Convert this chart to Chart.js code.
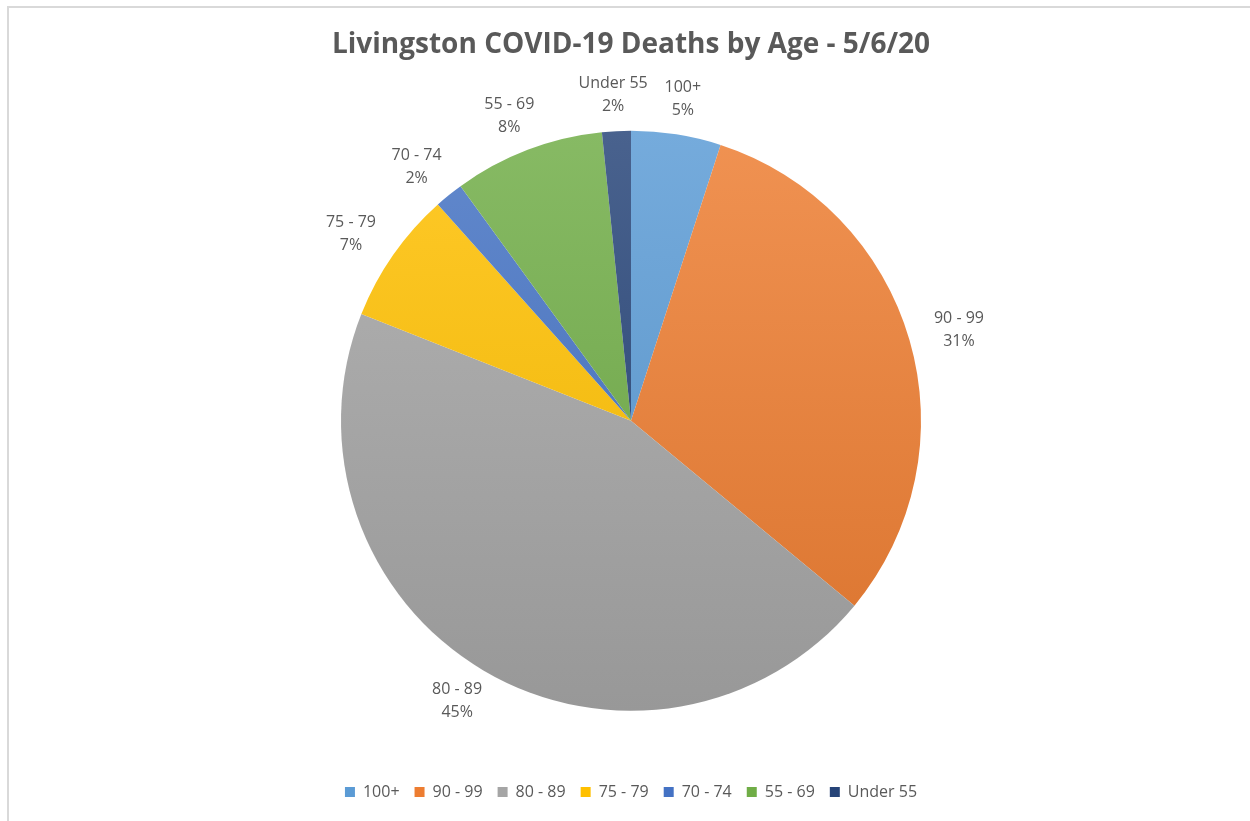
<!DOCTYPE html>
<html lang="en">
<head>
  <meta charset="UTF-8" />
  <title>Livingston COVID-19 Deaths by Age</title>
  <script src="https://cdn.jsdelivr.net/npm/chart.js"></script>
  <style>
    html, body { margin: 0; padding: 0; background: #ffffff; }
    .wrap { position: relative; width: 1250px; height: 821px; overflow: hidden; }
    /* thin frame seen at the top and left edge */
    .frame {
      position: absolute; left: 7px; top: 6px; right: -4px; bottom: -4px;
      border-top: 2px solid #d9d9d9; border-left: 2px solid #d9d9d9;
      pointer-events: none;
    }
    canvas { position: absolute; left: 0; top: 0; }
  </style>
</head>
<body>
  <div class="wrap">
    <canvas id="pie" width="1250" height="821"></canvas>
    <div class="frame"></div>
  </div>

  <script>
    // data (share of deaths, %)
    const ageGroups = ['100+', '90 - 99', '80 - 89', '75 - 79', '70 - 74', '55 - 69', 'Under 55'];
    const deathShare = [5, 31, 45, 7.4, 1.6, 8.4, 1.6];
    const sliceColors = ['#5b9bd5', '#ed7d31', '#a5a5a5', '#ffc000', '#4472c4', '#70ad47', '#264478'];

    const textColor = '#595959';
    const fontFamily = '"Open Sans", "Noto Sans", sans-serif';
    const pieRadius = 290;

    // mix a hex colour with white (amt > 0) or black (amt < 0)
    function shade(hex, amt) {
      const n = parseInt(hex.slice(1), 16);
      let r = (n >> 16) & 255, g = (n >> 8) & 255, b = n & 255;
      const t = amt > 0 ? 255 : 0, p = Math.abs(amt);
      r = Math.round(r + (t - r) * p);
      g = Math.round(g + (t - g) * p);
      b = Math.round(b + (t - b) * p);
      return `rgb(${r},${g},${b})`;
    }

    // vertical gradient like the office-style fill
    function sliceFill(context) {
      const chart = context.chart;
      const area = chart.chartArea;
      if (!area) return sliceColors[context.dataIndex];
      const cy = (area.top + area.bottom) / 2;
      const base = sliceColors[context.dataIndex];
      const g = chart.ctx.createLinearGradient(0, cy - pieRadius, 0, cy + pieRadius);
      g.addColorStop(0, shade(base, 0.16));
      g.addColorStop(1, shade(base, -0.08));
      return g;
    }

    // labels outside each slice: category + percent
    const outsideLabels = {
      id: 'outsideLabels',
      afterDatasetsDraw(chart) {
        const ctx = chart.ctx;
        const meta = chart.getDatasetMeta(0);
        const values = chart.data.datasets[0].data;
        const total = values.reduce((a, b) => a + b, 0);
        ctx.save();
        ctx.fillStyle = textColor;
        ctx.font = `16px ${fontFamily}`;
        ctx.textAlign = 'center';
        ctx.textBaseline = 'middle';
        meta.data.forEach((arc, i) => {
          const { x, y, startAngle, endAngle, outerRadius } = arc.getProps(['x', 'y', 'startAngle', 'endAngle', 'outerRadius'], true);
          const mid = (startAngle + endAngle) / 2;
          const cos = Math.cos(mid), sin = Math.sin(mid);
          const name = chart.data.labels[i];
          const pct = Math.round(values[i] / total * 100) + '%';
          const w = Math.max(ctx.measureText(name).width, ctx.measureText(pct).width);
          const h = 44;
          const r = outerRadius + 14;
          // push the text box out so its edge sits next to the pie
          const lx = x + cos * r + cos * w * 0.75;
          const ly = y + sin * r + sin * h / 2;
          ctx.fillText(name, lx, ly - 11.5);
          ctx.fillText(pct, lx, ly + 11.5);
        });
        ctx.restore();
      }
    };

    new Chart(document.getElementById('pie'), {
      type: 'pie',
      data: {
        labels: ageGroups,
        datasets: [{
          data: deathShare,
          backgroundColor: sliceFill,
          borderWidth: 0,
          radius: pieRadius
        }]
      },
      options: {
        responsive: false,
        animation: false,
        events: [],
        layout: { padding: { left: 12, right: 0, top: 0, bottom: 11 } },
        plugins: {
          title: {
            display: true,
            text: 'Livingston COVID-19 Deaths by Age - 5/6/20',
            color: textColor,
            font: { family: fontFamily, size: 28, weight: 'bold' },
            padding: { top: 28, bottom: 11 }
          },
          legend: {
            position: 'bottom',
            labels: {
              color: textColor,
              font: { family: fontFamily, size: 16 },
              boxWidth: 10,
              boxHeight: 10,
              padding: 15,
              generateLabels(chart) {
                return chart.data.labels.map((label, i) => ({
                  text: label,
                  fillStyle: sliceColors[i],
                  strokeStyle: sliceColors[i],
                  lineWidth: 0,
                  fontColor: textColor,
                  index: i
                }));
              }
            }
          },
          tooltip: { enabled: false }
        }
      },
      plugins: [outsideLabels]
    });
  </script>
</body>
</html>
